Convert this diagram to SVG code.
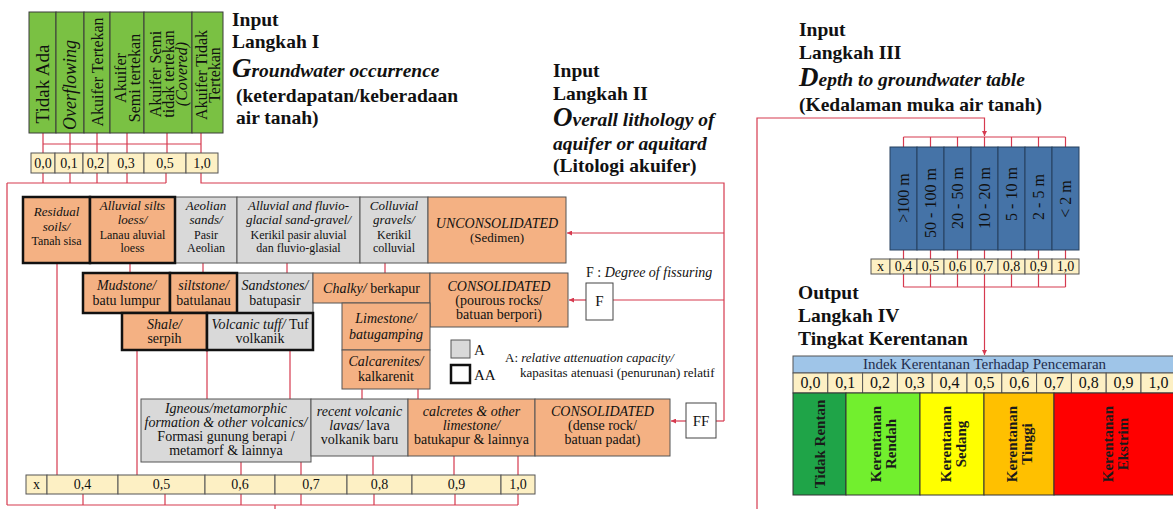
<svg xmlns="http://www.w3.org/2000/svg" width="1173" height="509" viewBox="0 0 1173 509">
<style>
text{font-family:"Liberation Serif","Times New Roman",serif;fill:#111}
.b{font-weight:bold}
.i{font-style:italic}
.c{text-anchor:middle}
.h{font-size:19.5px;font-weight:bold}
.big{font-size:27px}
.conn{stroke:#d63a4f;stroke-width:1.2;fill:none}
.or{fill:#f4b183;stroke:#555;stroke-width:1}
.gr{fill:#d9d9d9;stroke:#555;stroke-width:1}
.thick{stroke:#111;stroke-width:2.5}
.grn{fill:#7ac143;stroke:#3a3a3a;stroke-width:1}
.blu{fill:#4573a7;stroke:#26405e;stroke-width:1}
.cell{fill:#fdf0c4;stroke:#555;stroke-width:1}
.wb{fill:#fff;stroke:#444;stroke-width:1}
.r1i{font-size:13px;font-style:italic}
.r1r{font-size:12px}
.ri{font-size:14px;font-style:italic}
.rr{font-size:14px}
.s14{font-size:14px}
.s15{font-size:15px}
.s16{font-size:16px}
.bk{fill:#111}
.bt{font-size:15px;font-weight:bold;fill:#1a1a1a}
</style>
<defs>
<marker id="ah" viewBox="0 0 6 6" refX="6" refY="3" markerWidth="5" markerHeight="5" markerUnits="userSpaceOnUse" orient="auto"><path d="M0,0L6,3L0,6z" fill="#d63a4f"/></marker>
</defs>

<!-- Titles -->
<g id="title1">
<text class="h" x="232" y="26">Input</text>
<text class="h" x="232" y="48">Langkah I</text>
<text class="h i" x="232" y="77"><tspan class="big">G</tspan>roundwater occurrence</text>
<text class="h" x="236" y="102">(keterdapatan/keberadaan</text>
<text class="h" x="236" y="124">air tanah)</text>
</g>
<g id="title2">
<text class="h" x="553" y="77">Input</text>
<text class="h" x="553" y="100">Langkah II</text>
<text class="h i" x="553" y="126"><tspan class="big">O</tspan>verall lithology of</text>
<text class="h i" x="553" y="150">aquifer or aquitard</text>
<text class="h" x="553" y="172">(Litologi akuifer)</text>
</g>
<g id="title3">
<text class="h" x="799" y="36">Input</text>
<text class="h" x="799" y="59">Langkah III</text>
<text class="h i" x="799" y="86"><tspan class="big">D</tspan>epth to groundwater table</text>
<text class="h" x="799" y="111">(Kedalaman muka air tanah)</text>
</g>
<g id="title4">
<text class="h" x="798" y="299">Output</text>
<text class="h" x="798" y="322">Langkah IV</text>
<text class="h" x="798" y="345">Tingkat Kerentanan</text>
</g>

<!-- Connectors -->
<g id="connectors" class="conn">
<path d="M43,133V153M70,133V153M97,133V153M127,133V153M167,133V153M201,133V153M43,144H201"/>
<path d="M43,173V183M70,173V183M97,173V183M127,173V183M166,173V183M7,183H166M7,183V505"/>
<path d="M201,173V183H724V421"/>
<path d="M724,233H567" marker-end="url(#ah)"/>
<path d="M724,300H613"/>
<path d="M586,300H569" marker-end="url(#ah)"/>
<path d="M724,421H716"/>
<path d="M686,421H671" marker-end="url(#ah)"/>
<path d="M57,263V475M130,263V273M203,263V273M287,263V273M385,263V273"/>
<path d="M137,350V475M207,350V399M290,350V399M362,389V399M418,389V399"/>
<path d="M241,462V475M301,462V475M373,456V475M454,456V475M518,456V475"/>
<path d="M83,494V505M165,494V505M241,494V505M301,494V505M374,494V505M455,494V505M518,494V505M7,505H518M275,505V509"/>
<path d="M757,509V118H984.5V136" marker-end="url(#ah)"/>
<path d="M903.5,137H1065.5M903.5,137V147M930.5,137V147M957.5,137V147M984.5,137V147M1011.5,137V147M1038.5,137V147M1065.5,137V147"/>
<path d="M903.5,250V259M930.5,250V259M957.5,250V259M984.5,250V259M1011.5,250V259M1038.5,250V259M1065.5,250V259"/>
<path d="M903.5,274V287M930.5,274V287M957.5,274V287M984.5,274V287M1011.5,274V287M1038.5,274V287M1065.5,274V287M903.5,287H1065.5"/>
<path d="M984.5,287V355" marker-end="url(#ah)"/>
</g>

<!-- Langkah I columns -->
<g id="gw-tidak-ada"><rect class="grn" x="29" y="12" width="27" height="121"/>
<text class="c" style="font-size:19px" transform="translate(42.5,84) rotate(-90)" y="6">Tidak Ada</text></g>
<g id="gw-overflowing"><rect class="grn" x="56" y="12" width="28" height="121"/>
<text class="c i" style="font-size:18px" transform="translate(70,85) rotate(-90)" y="6">Overflowing</text></g>
<g id="gw-tertekan"><rect class="grn" x="84" y="12" width="26" height="121"/>
<text class="c s16" transform="translate(97,72) rotate(-90)" y="5.5">Akuifer Tertekan</text></g>
<g id="gw-semi"><rect class="grn" x="110" y="12" width="34" height="121"/>
<text class="c s16" transform="translate(127,78) rotate(-90)"><tspan x="0" y="-1.5">Akuifer</tspan><tspan x="0" y="12.5">Semi tertekan</tspan></text></g>
<g id="gw-semi-tidak"><rect class="grn" x="144" y="12" width="48" height="121"/>
<text class="c s16" transform="translate(168,74) rotate(-90)"><tspan x="0" y="-7.5">Akuifer Semi</tspan><tspan x="0" y="5.5">tidak tertekan</tspan><tspan x="0" y="18.5" class="i">(Covered)</tspan></text></g>
<g id="gw-tidak-tertekan"><rect class="grn" x="192" y="12" width="31" height="121"/>
<text class="c s16" transform="translate(207.5,75) rotate(-90)"><tspan x="0" y="-1">Akuifer Tidak</tspan><tspan x="0" y="12">Tertekan</tspan></text></g>

<g id="scale1">
<rect class="cell" x="31" y="153" width="24" height="20"/><text class="c s14" x="43" y="168">0,0</text>
<rect class="cell" x="55" y="153" width="28" height="20"/><text class="c s14" x="69" y="168">0,1</text>
<rect class="cell" x="83" y="153" width="25" height="20"/><text class="c s14" x="95.5" y="168">0,2</text>
<rect class="cell" x="108" y="153" width="36" height="20"/><text class="c s14" x="126" y="168">0,3</text>
<rect class="cell" x="144" y="153" width="42" height="20"/><text class="c s14" x="165" y="168">0,5</text>
<rect class="cell" x="186" y="153" width="32" height="20"/><text class="c s14" x="202" y="168">1,0</text>
</g>

<!-- Row 1 -->
<g id="aeolian"><rect class="gr" x="175" y="197" width="62" height="66"/>
<text class="c"><tspan class="r1i" x="206" y="209.5">Aeolian</tspan><tspan class="r1i" x="206" y="224">sands/</tspan><tspan class="r1r" x="206" y="238.5">Pasir</tspan><tspan class="r1r" x="206" y="252">Aeolian</tspan></text></g>
<g id="alluvial-fluvio"><rect class="gr" x="237" y="197" width="123" height="66"/>
<text class="c"><tspan class="r1i" x="298.5" y="209.5">Alluvial and fluvio-</tspan><tspan class="r1i" x="298.5" y="224">glacial sand-gravel/</tspan><tspan class="r1r" x="298.5" y="238.5">Kerikil pasir aluvial</tspan><tspan class="r1r" x="298.5" y="252">dan fluvio-glasial</tspan></text></g>
<g id="colluvial"><rect class="gr" x="360" y="197" width="68" height="66"/>
<text class="c"><tspan class="r1i" x="394" y="209.5">Colluvial</tspan><tspan class="r1i" x="394" y="224">gravels/</tspan><tspan class="r1r" x="394" y="238.5">Kerikil</tspan><tspan class="r1r" x="394" y="252">colluvial</tspan></text></g>
<g id="unconsolidated"><rect class="or" x="428" y="197" width="138" height="66"/>
<text class="c"><tspan class="ri" x="497" y="228">UNCONSOLIDATED</tspan><tspan style="font-size:13px" x="497" y="242">(Sedimen)</tspan></text></g>
<g id="residual"><rect class="or thick" x="23" y="197" width="67" height="66"/>
<text class="c"><tspan class="r1i" x="56.5" y="216">Residual</tspan><tspan class="r1i" x="56.5" y="230.5">soils/</tspan><tspan class="r1r" x="56.5" y="245">Tanah sisa</tspan></text></g>
<g id="alluvial-silts"><rect class="or thick" x="90" y="197" width="85" height="66"/>
<text class="c"><tspan class="r1i" x="132.5" y="209.5">Alluvial silts</tspan><tspan class="r1i" x="132.5" y="224">loess/</tspan><tspan class="r1r" x="132.5" y="238.5">Lanau aluvial</tspan><tspan class="r1r" x="132.5" y="252">loess</tspan></text></g>

<!-- Row 2/3 -->
<g id="sandstones"><rect class="gr" x="237" y="273" width="76" height="40"/>
<text class="c"><tspan class="ri" x="275" y="290">Sandstones/</tspan><tspan class="rr" x="275" y="305">batupasir</tspan></text></g>
<g id="chalky"><rect class="or" x="313" y="273" width="117" height="30"/>
<text class="c" x="371.5" y="293"><tspan class="ri">Chalky/</tspan><tspan class="rr"> berkapur</tspan></text></g>
<g id="consolidated-porous"><rect class="or" x="430" y="273" width="138" height="54"/>
<text class="c"><tspan class="ri" x="499" y="291">CONSOLIDATED</tspan><tspan class="rr" x="499" y="305">(pourous rocks/</tspan><tspan class="rr" x="499" y="319">batuan berpori)</tspan></text></g>
<g id="limestone"><rect class="or" x="342" y="303" width="88" height="47"/>
<text class="c"><tspan class="ri" x="386" y="323">Limestone/</tspan><tspan class="ri" x="386" y="339">batugamping</tspan></text></g>
<g id="calcarenites"><rect class="or" x="342" y="350" width="88" height="39"/>
<text class="c"><tspan class="ri" x="386" y="366">Calcarenites/</tspan><tspan class="rr" x="386" y="381">kalkarenit</tspan></text></g>
<g id="mudstone"><rect class="or thick" x="83" y="273" width="87" height="40"/>
<text class="c"><tspan class="ri" x="126.5" y="290">Mudstone/</tspan><tspan class="rr" x="126.5" y="305">batu lumpur</tspan></text></g>
<g id="siltstone"><rect class="or thick" x="170" y="273" width="67" height="40"/>
<text class="c"><tspan class="ri" x="203.5" y="290">siltstone/</tspan><tspan class="rr" x="203.5" y="305">batulanau</tspan></text></g>
<g id="shale"><rect class="or thick" x="122" y="313" width="85" height="37"/>
<text class="c"><tspan class="ri" x="164.5" y="329">Shale/</tspan><tspan class="rr" x="164.5" y="343">serpih</tspan></text></g>
<g id="volcanic-tuff"><rect class="gr thick" x="207" y="313" width="106" height="37"/>
<text class="c"><tspan x="260" y="329"><tspan class="ri">Volcanic tuff/</tspan><tspan class="rr"> Tuf</tspan></tspan><tspan class="rr" x="260" y="343">volkanik</tspan></text></g>

<!-- Legend -->
<g id="legend">
<rect class="gr" x="451" y="340" width="19" height="18"/>
<text class="s15" x="474" y="355">A</text>
<rect fill="#fff" stroke="#111" stroke-width="2.5" x="451" y="365" width="19" height="18"/>
<text class="s15" x="474" y="380">AA</text>
<text style="font-size:13px" x="505" y="362">A: <tspan class="i">relative attenuation capacity/</tspan></text>
<text style="font-size:13px" x="520" y="377">kapasitas atenuasi (penurunan) relatif</text>
</g>

<g id="f-node">
<text class="s14" x="586" y="277">F : <tspan class="i">Degree of fissuring</tspan></text>
<rect class="wb" x="586" y="283" width="27" height="37"/>
<text class="c s15" x="599.5" y="306">F</text>
</g>
<g id="ff-node">
<rect class="wb" x="686" y="403" width="30" height="35"/>
<text class="c s15" x="701" y="426">FF</text>
</g>

<!-- Row 4 -->
<g id="igneous"><rect class="gr" x="141" y="399" width="170" height="63"/>
<text class="c"><tspan class="ri" x="226" y="413">Igneous/metamorphic</tspan><tspan class="ri" x="226" y="427">formation &amp; other volcanics/</tspan><tspan class="rr" x="226" y="441">Formasi gunung berapi /</tspan><tspan class="rr" x="226" y="455">metamorf &amp; lainnya</tspan></text></g>
<g id="recent-volcanic"><rect class="gr" x="311" y="399" width="97" height="57"/>
<text class="c"><tspan class="ri" x="359.5" y="416">recent volcanic</tspan><tspan x="359.5" y="430"><tspan class="ri">lavas/</tspan><tspan class="rr"> lava</tspan></tspan><tspan class="rr" x="359.5" y="444">volkanik baru</tspan></text></g>
<g id="calcretes"><rect class="or" x="408" y="399" width="127" height="57"/>
<text class="c"><tspan class="ri" x="471.5" y="416">calcretes &amp; other</tspan><tspan class="ri" x="471.5" y="430">limestone/</tspan><tspan class="rr" x="471.5" y="444">batukapur &amp; lainnya</tspan></text></g>
<g id="consolidated-dense"><rect class="or" x="535" y="399" width="135" height="57"/>
<text class="c"><tspan class="ri" x="602.5" y="416">CONSOLIDATED</tspan><tspan class="rr" x="602.5" y="430">(dense rock/</tspan><tspan class="rr" x="602.5" y="444">batuan padat)</tspan></text></g>

<g id="scale2">
<rect class="cell" x="26" y="475" width="21" height="19"/><text class="c s14" x="36.5" y="489">x</text>
<rect class="cell" x="47" y="475" width="71" height="19"/><text class="c s14" x="82.5" y="489">0,4</text>
<rect class="cell" x="118" y="475" width="87" height="19"/><text class="c s14" x="161.5" y="489">0,5</text>
<rect class="cell" x="205" y="475" width="70" height="19"/><text class="c s14" x="240" y="489">0,6</text>
<rect class="cell" x="275" y="475" width="72" height="19"/><text class="c s14" x="311" y="489">0,7</text>
<rect class="cell" x="347" y="475" width="65" height="19"/><text class="c s14" x="379.5" y="489">0,8</text>
<rect class="cell" x="412" y="475" width="89" height="19"/><text class="c s14" x="456.5" y="489">0,9</text>
<rect class="cell" x="501" y="475" width="34" height="19"/><text class="c s14" x="518" y="489">1,0</text>
</g>

<!-- Langkah III -->
<g id="d-100"><rect class="blu" x="890" y="147" width="27" height="103"/><text class="c s16 bk" transform="translate(903.5,198) rotate(-90)" y="5.5">&gt;100 m</text></g>
<g id="d-50-100"><rect class="blu" x="917" y="147" width="27" height="103"/><text class="c s16 bk" transform="translate(930.5,203) rotate(-90)" y="5.5">50 - 100 m</text></g>
<g id="d-20-50"><rect class="blu" x="944" y="147" width="27" height="103"/><text class="c s16 bk" transform="translate(957.5,198) rotate(-90)" y="5.5">20 - 50 m</text></g>
<g id="d-10-20"><rect class="blu" x="971" y="147" width="27" height="103"/><text class="c s16 bk" transform="translate(984.5,198) rotate(-90)" y="5.5">10 - 20 m</text></g>
<g id="d-5-10"><rect class="blu" x="998" y="147" width="27" height="103"/><text class="c s16 bk" transform="translate(1011.5,194) rotate(-90)" y="5.5">5 - 10 m</text></g>
<g id="d-2-5"><rect class="blu" x="1025" y="147" width="27" height="103"/><text class="c s16 bk" transform="translate(1038.5,197) rotate(-90)" y="5.5">2 - 5 m</text></g>
<g id="d-2"><rect class="blu" x="1052" y="147" width="27" height="103"/><text class="c s16 bk" transform="translate(1065.5,199) rotate(-90)" y="5.5">&lt; 2 m</text></g>

<g id="scale3">
<rect class="cell" x="871" y="259" width="19" height="15"/><text class="c s14" x="880.5" y="271">x</text>
<rect class="cell" x="890" y="259" width="27" height="15"/><text class="c s14" x="903.5" y="271">0,4</text>
<rect class="cell" x="917" y="259" width="27" height="15"/><text class="c s14" x="930.5" y="271">0,5</text>
<rect class="cell" x="944" y="259" width="27" height="15"/><text class="c s14" x="957.5" y="271">0,6</text>
<rect class="cell" x="971" y="259" width="27" height="15"/><text class="c s14" x="984.5" y="271">0,7</text>
<rect class="cell" x="998" y="259" width="27" height="15"/><text class="c s14" x="1011.5" y="271">0,8</text>
<rect class="cell" x="1025" y="259" width="27" height="15"/><text class="c s14" x="1038.5" y="271">0,9</text>
<rect class="cell" x="1052" y="259" width="27" height="15"/><text class="c s14" x="1065.5" y="271">1,0</text>
</g>

<!-- Output -->
<g id="index-bar">
<rect x="793" y="356" width="383" height="17" fill="#9fc5e8" stroke="#555"/>
<text class="c s15" x="984.5" y="369" style="fill:#1f2d4d">Indek Kerentanan Terhadap Pencemaran</text>
</g>
<g id="scale4">
<rect class="cell" x="793" y="373" width="34.8" height="20"/><text class="c s16" x="810.4" y="388">0,0</text>
<rect class="cell" x="827.8" y="373" width="34.8" height="20"/><text class="c s16" x="845.2" y="388">0,1</text>
<rect class="cell" x="862.6" y="373" width="34.8" height="20"/><text class="c s16" x="880" y="388">0,2</text>
<rect class="cell" x="897.4" y="373" width="34.8" height="20"/><text class="c s16" x="914.8" y="388">0,3</text>
<rect class="cell" x="932.2" y="373" width="34.8" height="20"/><text class="c s16" x="949.6" y="388">0,4</text>
<rect class="cell" x="967" y="373" width="34.8" height="20"/><text class="c s16" x="984.4" y="388">0,5</text>
<rect class="cell" x="1001.8" y="373" width="34.8" height="20"/><text class="c s16" x="1019.2" y="388">0,6</text>
<rect class="cell" x="1036.6" y="373" width="34.8" height="20"/><text class="c s16" x="1054" y="388">0,7</text>
<rect class="cell" x="1071.4" y="373" width="34.8" height="20"/><text class="c s16" x="1088.8" y="388">0,8</text>
<rect class="cell" x="1106.2" y="373" width="34.8" height="20"/><text class="c s16" x="1123.6" y="388">0,9</text>
<rect class="cell" x="1141" y="373" width="34.8" height="20"/><text class="c s16" x="1158.4" y="388">1,0</text>
</g>
<g id="tidak-rentan"><rect x="793" y="393" width="53" height="102" fill="#1fa448" stroke="#333"/>
<text class="c bt" transform="translate(819.5,444) rotate(-90)" y="5">Tidak Rentan</text></g>
<g id="rendah"><rect x="846" y="393" width="74" height="102" fill="#72ef2e" stroke="#333"/>
<text class="c bt" transform="translate(883,444) rotate(-90)"><tspan x="0" y="-2.5">Kerentanan</tspan><tspan x="0" y="12.5">Rendah</tspan></text></g>
<g id="sedang"><rect x="920" y="393" width="64" height="102" fill="#ffff00" stroke="#333"/>
<text class="c bt" transform="translate(953,444) rotate(-90)"><tspan x="0" y="-2.5">Kerentanan</tspan><tspan x="0" y="12.5">Sedang</tspan></text></g>
<g id="tinggi"><rect x="984" y="393" width="70" height="102" fill="#ffc000" stroke="#333"/>
<text class="c bt" transform="translate(1019.5,444) rotate(-90)"><tspan x="0" y="-2.5">Kerentanan</tspan><tspan x="0" y="12.5">Tinggi</tspan></text></g>
<g id="ekstrim"><rect x="1054" y="393" width="122" height="102" fill="#ff0000" stroke="#333"/>
<text class="c bt" transform="translate(1115.5,444) rotate(-90)"><tspan x="0" y="-2.5">Kerentanan</tspan><tspan x="0" y="12.5">Ekstrim</tspan></text></g>
</svg>
